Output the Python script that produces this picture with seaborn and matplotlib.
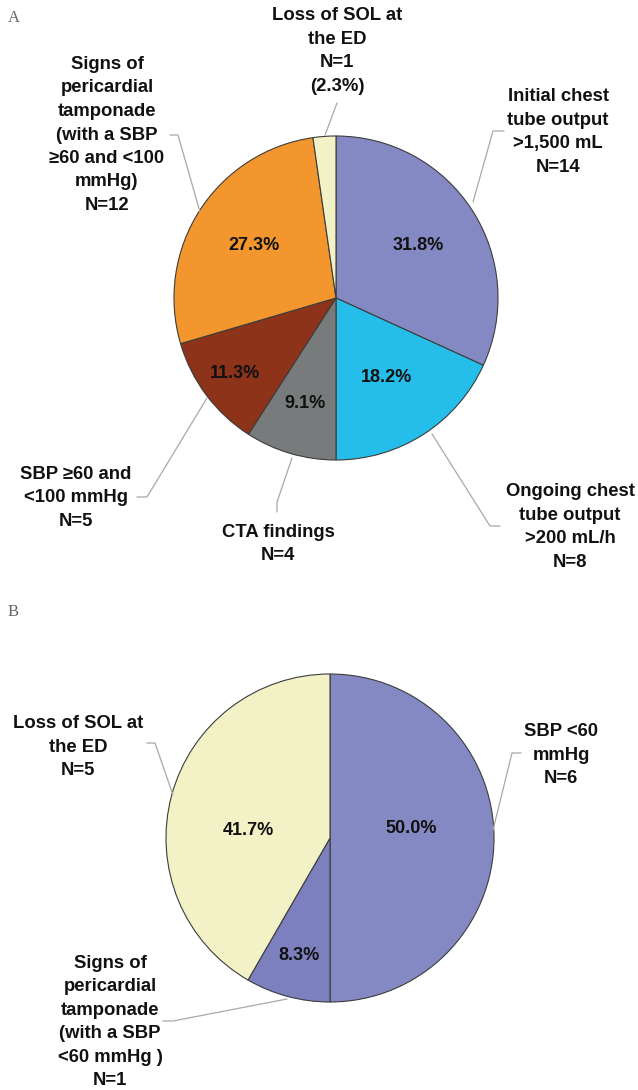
import numpy as np
import matplotlib
matplotlib.use("Agg")
import matplotlib.pyplot as plt
import seaborn as sns

# ---- data ----
# panel A, clockwise from 12 o'clock
a_labels = ["Initial chest\ntube output\n>1,500 mL\nN=14",
            "Ongoing chest\ntube output\n>200 mL/h\nN=8",
            "CTA findings\nN=4",
            "SBP \u226560 and\n<100 mmHg\nN=5",
            "Signs of\npericardial\ntamponade\n(with a SBP\n\u226560 and <100\nmmHg)\nN=12",
            "Loss of SOL at\nthe ED\nN=1\n(2.3%)"]
a_counts = [14, 8, 4, 5, 12, 1]
a_pcts = ["31.8%", "18.2%", "9.1%", "11.3%", "27.3%", ""]
a_colors = ["#8589C3", "#25BEEA", "#787B7B", "#8C331A", "#F4962E", "#F2F2C6"]

# panel B, clockwise from 12 o'clock
b_labels = ["SBP <60\nmmHg\nN=6",
            "Signs of\npericardial\ntamponade\n(with a SBP\n<60 mmHg )\nN=1",
            "Loss of SOL at\nthe ED\nN=5"]
b_counts = [6, 1, 5]
b_pcts = ["50.0%", "8.3%", "41.7%"]
b_colors = ["#8589C3", "#7C80BE", "#F2F2C6"]

# ---- layout (pixel coords, y from top) ----
W, H = 638, 1090
a_center, a_radius = (336, 298), 162
b_center, b_radius = (330, 838), 164
a_pct_r = [0.6, 0.58, 0.68, 0.78, 0.6, 0.6]
b_pct_r = [0.5, 0.74, 0.5]
b_pct_shift = [7, 0, 10]   # small angle nudges (deg) to match placement
a_text_xy = [(558, 132), (570, 527), (278, 544), (76, 498), (107, 135), (337, 51)]
b_text_xy = [(561, 755), (110, 1022), (78, 747)]
a_leaders = [[(473, 202), (493, 131), (504, 131)],
             [(432, 434), (490, 526), (500, 526)],
             [(292, 458), (277, 502), (277, 512)],
             [(207, 398), (147, 497), (137, 497)],
             [(200, 212), (178, 135), (170, 135)],
             [(325, 135), (337, 103)]]
b_leaders = [[(493, 830), (512, 753), (521, 753)],
             [(287, 999), (173, 1021), (163, 1021)],
             [(173, 795), (155, 743), (147, 743)]]

sns.set_theme(style="white")
plt.rcParams['font.family'] = ['Liberation Sans', 'DejaVu Sans']

fig = plt.figure(figsize=(W / 100, H / 100), dpi=100)
ax = fig.add_axes([0, 0, 1, 1])


def flip(pts):
    return [(x, H - y) for x, y in pts]


def draw_pie(counts, colors, pcts, pct_r, shift, center, radius, labels, text_xy, leaders):
    cx, cy = center[0], H - center[1]
    wedges, _ = ax.pie(counts, colors=colors, startangle=90, counterclock=False,
                       center=(cx, cy), radius=radius,
                       wedgeprops=dict(edgecolor="#3c3c3c", linewidth=0.8))
    for w, p, r, s in zip(wedges, pcts, pct_r, shift):
        mid = np.deg2rad((w.theta1 + w.theta2) / 2 + s)
        ax.text(cx + r * radius * np.cos(mid), cy + r * radius * np.sin(mid), p,
                ha="center", va="center", fontsize=13, fontweight="bold", color="#111111")
    for lab, (tx, ty) in zip(labels, text_xy):
        ax.text(tx, H - ty, lab, ha="center", va="center", fontsize=13.3,
                fontweight="bold", color="#111111", linespacing=1.5)
    for pts in leaders:
        xs, ys = zip(*flip(pts))
        ax.plot(xs, ys, color="#A8A8A8", linewidth=0.9)


draw_pie(a_counts, a_colors, a_pcts, a_pct_r, [0] * 6, a_center, a_radius,
         a_labels, a_text_xy, a_leaders)
draw_pie(b_counts, b_colors, b_pcts, b_pct_r, b_pct_shift, b_center, b_radius,
         b_labels, b_text_xy, b_leaders)

for lab, y in [("A", 18), ("B", 612)]:
    ax.text(8, H - y, lab, ha="left", va="center", fontsize=12,
            family=["Liberation Serif", "DejaVu Serif"], color="#666666")

ax.set_xlim(0, W)
ax.set_ylim(0, H)
ax.set_aspect("equal")
ax.axis("off")
fig.savefig("out.png", dpi=100, facecolor="white")
